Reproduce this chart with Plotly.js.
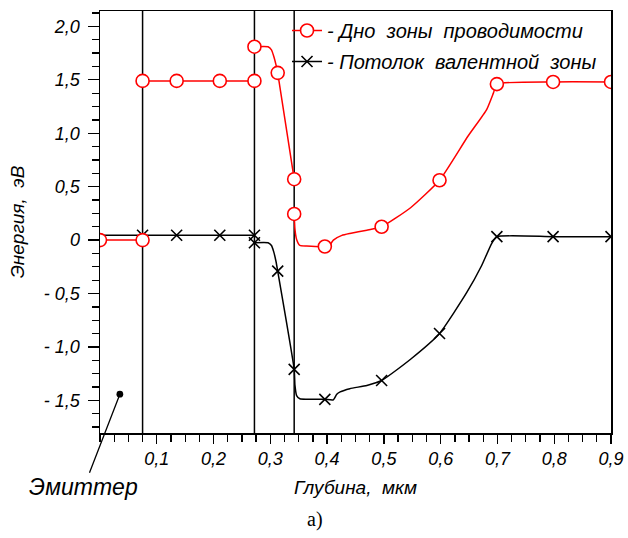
<!DOCTYPE html>
<html>
<head>
<meta charset="utf-8">
<script src="https://cdn.plot.ly/plotly-3.0.1.min.js"></script>
<style>
html,body{margin:0;padding:0;background:#fff;}
#chart{width:628px;height:538px;}
</style>
</head>
<body>
<div id="chart"></div>
<script>
// ---- data ----
var seriesNames = ["- Дно  зоны  проводимости", "- Потолок  валентной  зоны"];

// conduction band bottom: marker points
var cbMarkX = [0, 0.075, 0.075, 0.135, 0.211, 0.272, 0.272, 0.313, 0.342, 0.342, 0.396, 0.496, 0.598, 0.699, 0.798, 0.9];
var cbMarkY = [0, 0, 1.49, 1.49, 1.49, 1.49, 1.81, 1.565, 0.57, 0.245, -0.06, 0.125, 0.56, 1.46, 1.48, 1.48];
// conduction band bottom: traced curve (null = gap where the layer boundary line is seen)
var cbLineX = [0, 0.075, null, 0.075, 0.135, 0.211, 0.272, null, 0.272, 0.296, 0.302, 0.306, 0.310, 0.313, 0.342, null, 0.342, 0.3434, 0.3463, 0.352, 0.364, 0.396, 0.404, 0.411, 0.426, 0.44, 0.47, 0.496, 0.547, 0.598, 0.648, 0.681, 0.693, 0.699, 0.798, 0.9];
var cbLineY = [0, 0, null, 1.49, 1.49, 1.49, 1.49, null, 1.81, 1.81, 1.78, 1.72, 1.64, 1.565, 0.57, null, 0.245, 0.1, 0.006, -0.05, -0.056, -0.06, -0.05, 0.0, 0.044, 0.062, 0.093, 0.125, 0.303, 0.56, 0.972, 1.222, 1.378, 1.46, 1.48, 1.48];

// valence band top: marker points
var vbMarkX = [0.075, 0.135, 0.211, 0.272, 0.272, 0.313, 0.342, 0.396, 0.496, 0.598, 0.699, 0.798, 0.9];
var vbMarkY = [0.045, 0.045, 0.045, 0.045, -0.025, -0.29, -1.21, -1.49, -1.314, -0.874, 0.032, 0.032, 0.032];
// valence band top: traced curve
var vbLineX = [0, 0.075, 0.135, 0.211, 0.272, null, 0.272, 0.296, 0.302, 0.306, 0.310, 0.313, 0.342, 0.3434, 0.3463, 0.352, 0.364, 0.396, 0.411, 0.417, 0.423, 0.44, 0.47, 0.496, 0.547, 0.598, 0.646, 0.672, 0.69, 0.699, 0.798, 0.9];
var vbLineY = [0.045, 0.045, 0.045, 0.045, 0.045, null, -0.025, -0.025, -0.05, -0.11, -0.2, -0.29, -1.21, -1.36, -1.455, -1.485, -1.49, -1.49, -1.495, -1.442, -1.42, -1.39, -1.36, -1.314, -1.115, -0.874, -0.49, -0.24, -0.03, 0.032, 0.032, 0.032];

// layer boundaries (vertical lines), depth in µm
var boundaries = [0.075, 0.272, 0.342];

// axis ticks
var xTickVals = [0.1, 0.2, 0.3, 0.4, 0.5, 0.6, 0.7, 0.8, 0.9];
var xTickText = ["0,1", "0,2", "0,3", "0,4", "0,5", "0,6", "0,7", "0,8", "0,9"];
var yTickVals = [-1.5, -1.0, -0.5, 0, 0.5, 1.0, 1.5, 2.0];
var yTickText = ["- 1,5", "- 1,0", "- 0,5", "0", "0,5", "1,0", "1,5", "2,0"];

// emitter annotation point
var emitterX = [0.035];
var emitterY = [-1.442];

// ---- chart ----
var FONT = "Liberation Sans, Arial, sans-serif";
var RED = "#ff0000";
var BLACK = "#000000";

var traces = [
  {x: cbLineX, y: cbLineY, mode: "lines", line: {color: RED, width: 1.5, shape: "spline", smoothing: 0.5}, connectgaps: false, showlegend: false, hoverinfo: "skip"},
  {x: vbLineX, y: vbLineY, mode: "lines", line: {color: BLACK, width: 1.5, shape: "spline", smoothing: 0.5}, connectgaps: false, showlegend: false, hoverinfo: "skip"},
  {x: vbMarkX, y: vbMarkY, mode: "markers", marker: {symbol: "x-thin", size: 11, line: {color: BLACK, width: 1.6}}, showlegend: false},
  {x: cbMarkX, y: cbMarkY, mode: "markers", marker: {symbol: "circle", size: 13, color: "#fff", line: {color: RED, width: 1.6}}, showlegend: false},
  {x: [null], y: [null], name: seriesNames[0], legendgroup: "a", mode: "lines+markers",
   line: {color: RED, width: 1.5}, marker: {symbol: "circle", size: 13, color: "#fff", line: {color: RED, width: 1.6}}},
  {x: [null], y: [null], name: seriesNames[1], legendgroup: "b", mode: "lines+markers",
   line: {color: BLACK, width: 1.5}, marker: {symbol: "x-thin", size: 11, line: {color: BLACK, width: 1.6}}}
];

var shapes = boundaries.map(function (b) {
  return {type: "line", xref: "x", yref: "paper", x0: b, x1: b, y0: 0, y1: 1,
          line: {color: BLACK, width: 1.5}, layer: "below"};
});

var layout = {
  width: 628, height: 538,
  margin: {l: 100, r: 17.3, t: 11, b: 104.5},
  paper_bgcolor: "#fff", plot_bgcolor: "#fff",
  font: {family: FONT, color: BLACK, size: 18},
  showlegend: true,
  legend: {x: 0.366, xanchor: "left", y: 1.0, yanchor: "top", bgcolor: "rgba(0,0,0,0)",
           borderwidth: 0, font: {family: FONT, size: 20, style: "italic", color: BLACK},
           traceorder: "grouped", tracegroupgap: 2},
  xaxis: {
    range: [0, 0.9], showgrid: false, zeroline: false,
    showline: true, linecolor: BLACK, linewidth: 1.5, mirror: true,
    ticks: "outside", ticklen: 9, tickwidth: 1.3, tickcolor: BLACK,
    tickmode: "array", tickvals: xTickVals, ticktext: xTickText,
    tickfont: {family: FONT, size: 18, style: "italic", color: BLACK},
    minor: {dtick: 0.025, tick0: 0, ticks: "outside", ticklen: 7, tickwidth: 1.3, tickcolor: BLACK, showgrid: false},
    title: {text: "Глубина,  мкм", font: {family: FONT, size: 19, style: "italic", color: BLACK}, standoff: 12}
  },
  yaxis: {
    range: [-1.805, 2.144], showgrid: false, zeroline: false,
    showline: true, linecolor: BLACK, linewidth: 1.5, mirror: true,
    ticks: "outside", ticklen: 11, tickwidth: 1.3, tickcolor: BLACK,
    tickmode: "array", tickvals: yTickVals, ticktext: yTickText,
    ticklabelstandoff: 4,
    tickfont: {family: FONT, size: 18, style: "italic", color: BLACK},
    minor: {dtick: 0.125, tick0: 0, ticks: "outside", ticklen: 7, tickwidth: 1.3, tickcolor: BLACK, showgrid: false},
    title: {text: "Энергия,  эВ", font: {family: FONT, size: 19, style: "italic", color: BLACK}, standoff: 14}
  },
  shapes: shapes,
  annotations: [
    {x: emitterX[0], y: emitterY[0], xref: "x", yref: "y", text: "Эмиттер",
     showarrow: true, arrowhead: 6, arrowsize: 1.3, arrowwidth: 1.3, arrowcolor: BLACK,
     ax: -36, ay: 93, font: {family: FONT, size: 23, style: "italic", color: BLACK}},
    {x: 0.421, y: -0.238, xref: "paper", yref: "paper", text: "а)", showarrow: false,
     font: {family: "Liberation Serif, Times New Roman, serif", size: 20, color: BLACK}}
  ]
};

Plotly.newPlot("chart", traces, layout, {displayModeBar: false, staticPlot: true});
</script>
</body>
</html>
